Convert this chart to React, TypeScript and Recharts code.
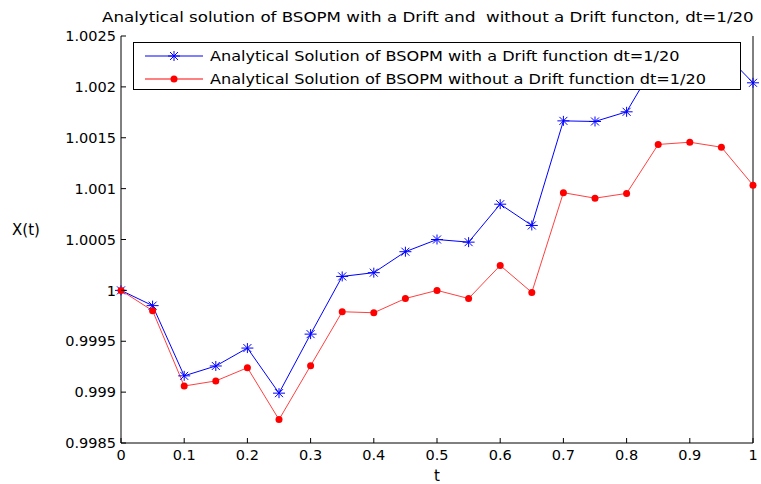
import { LineChart, Line, XAxis, YAxis, Legend } from "recharts";

const tValues = [0, 0.05, 0.1, 0.15, 0.2, 0.25, 0.3, 0.35, 0.4, 0.45, 0.5, 0.55, 0.6, 0.65, 0.7, 0.75, 0.8, 0.85, 0.9, 0.95, 1];

const withDrift = [
  1.0, 0.99985, 0.99916, 0.999257, 0.999433, 0.99899, 0.99957, 1.000137, 1.000174, 1.00038, 1.0005,
  1.000474, 1.000847, 1.000638, 1.001666, 1.00166, 1.001755, 1.00228, 1.00236, 1.00236, 1.00204,
];

const withoutDrift = [
  1.0, 0.9998, 0.99906, 0.99911, 0.99924, 0.99873, 0.99926, 0.99979, 0.99978, 0.99992, 1.0,
  0.99992, 1.000245, 0.99998, 1.00096, 1.000906, 1.000953, 1.001434, 1.001456, 1.001407, 1.001034,
];

const xTicks = [0, 0.1, 0.2, 0.3, 0.4, 0.5, 0.6, 0.7, 0.8, 0.9, 1];
const yTicks = [0.9985, 0.999, 0.9995, 1, 1.0005, 1.001, 1.0015, 1.002, 1.0025];

const data = tValues.map((t, i) => ({ t, drift: withDrift[i], noDrift: withoutDrift[i] }));

const FONT = "'DejaVu Sans', sans-serif";
const BLUE = "#0000ff";
const RED = "#ff0000";
const TICK_LEN = 5;

const fmtY = (v: number) => String(Number(v.toFixed(4)));

const BottomTick = (props: any) => {
  const { x, y, payload } = props;
  return (
    <g>
      <line x1={x} x2={x} y1={y} y2={y - TICK_LEN} stroke="#000" />
      <text x={x} y={y + 17} textAnchor="middle" fontSize={14.5} fontFamily={FONT} fill="#000">
        {String(payload.value)}
      </text>
    </g>
  );
};

const TopTick = (props: any) => {
  const { x, y } = props;
  return <line x1={x} x2={x} y1={y} y2={y + TICK_LEN} stroke="#000" />;
};

const LeftTick = (props: any) => {
  const { x, y, payload } = props;
  return (
    <g>
      <line x1={x} x2={x + TICK_LEN} y1={y} y2={y} stroke="#000" />
      <text x={x - 5} y={y} dy="0.36em" textAnchor="end" fontSize={14.5} fontFamily={FONT} fill="#000">
        {fmtY(payload.value)}
      </text>
    </g>
  );
};

const RightTick = (props: any) => {
  const { x, y } = props;
  return <line x1={x} x2={x - TICK_LEN} y1={y} y2={y} stroke="#000" />;
};

const Asterisk = (props: any) => {
  const { cx, cy, index } = props;
  if (cx == null || cy == null) return <g key={index} />;
  return (
    <g key={index} stroke={BLUE} strokeWidth={1}>
      <line x1={cx - 6} x2={cx + 6} y1={cy} y2={cy} />
      <line x1={cx} x2={cx} y1={cy - 5} y2={cy + 5} />
      <line x1={cx - 4} x2={cx + 4} y1={cy - 4} y2={cy + 4} />
      <line x1={cx - 4} x2={cx + 4} y1={cy + 4} y2={cy - 4} />
    </g>
  );
};

const legendItems = [
  { label: "Analytical Solution of BSOPM with a Drift function dt=1/20", color: BLUE, star: true },
  { label: "Analytical Solution of BSOPM without a Drift function dt=1/20", color: "#ff8080", star: false },
];

const LegendBox = () => (
  <div
    style={{
      border: "1px solid #000",
      background: "#fff",
      width: 606,
      height: 46,
      fontFamily: FONT,
      fontSize: 14,
      color: "#000",
    }}
  >
    {legendItems.map((item) => (
      <div key={item.label} style={{ display: "flex", alignItems: "center", height: 20, marginTop: 3 }}>
        <svg width={76} height={20}>
          <line x1={11} x2={69} y1={10} y2={10} stroke={item.color} strokeWidth={item.star ? 1 : 2} />
          {item.star ? (
            <Asterisk cx={40} cy={10} index={0} />
          ) : (
            <circle cx={40} cy={10} r={3.5} fill={RED} />
          )}
        </svg>
        <span style={{ whiteSpace: "nowrap", display: "inline-block", transform: "scaleX(1.15)", transformOrigin: "left center" }}>
          {item.label}
        </span>
      </div>
    ))}
  </div>
);

export default function App() {
  return (
    <div style={{ position: "absolute", left: 0, top: 0, width: 761, height: 484, background: "#fff", overflow: "hidden" }}>
      <div
        style={{
          position: "absolute",
          left: 102,
          top: 9,
          whiteSpace: "nowrap",
          fontFamily: FONT,
          fontSize: 14,
          color: "#000",
          transform: "scaleX(1.19)",
          transformOrigin: "left center",
        }}
      >
        Analytical solution of BSOPM with a Drift and&nbsp; without a Drift functon, dt=1/20
      </div>
      <LineChart width={761} height={484} data={data} margin={{ top: 36, right: 0, bottom: 0, left: 0 }}>
        <XAxis
          dataKey="t"
          type="number"
          domain={[0, 1]}
          ticks={xTicks}
          height={41}
          tickSize={0}
          tickMargin={0}
          tickLine={false}
          tick={BottomTick}
          axisLine={{ stroke: "#000" }}
          interval={0}
          label={{ value: "t", position: "insideBottom", offset: 3, fontSize: 15, fontFamily: FONT, fill: "#000" }}
        />
        <XAxis
          xAxisId="top"
          orientation="top"
          type="number"
          domain={[0, 1]}
          ticks={xTicks}
          height={0}
          tickSize={0}
          tickMargin={0}
          tickLine={false}
          tick={TopTick}
          axisLine={{ stroke: "#000" }}
          interval={0}
        />
        <YAxis
          type="number"
          domain={[0.9985, 1.0025]}
          ticks={yTicks}
          width={121}
          tickSize={0}
          tickMargin={0}
          tickLine={false}
          tick={LeftTick}
          axisLine={{ stroke: "#000" }}
          interval={0}
          allowDataOverflow
          label={{ value: "X(t)", position: "insideLeft", offset: 12, dy: -10, fontSize: 15, fontFamily: FONT, fill: "#000" }}
        />
        <YAxis
          yAxisId="right"
          orientation="right"
          type="number"
          domain={[0.9985, 1.0025]}
          ticks={yTicks}
          width={8}
          tickSize={0}
          tickMargin={0}
          tickLine={false}
          tick={RightTick}
          axisLine={{ stroke: "#000" }}
          interval={0}
        />
        <Legend
          layout="vertical"
          align="center"
          verticalAlign="middle"
          content={() => <LegendBox />}
          wrapperStyle={{ left: 133, top: 42, width: 608 }}
        />
        <Line
          type="linear"
          dataKey="drift"
          stroke={BLUE}
          strokeWidth={1}
          dot={Asterisk}
          activeDot={false}
          isAnimationActive={false}
        />
        <Line
          type="linear"
          dataKey="noDrift"
          stroke="#ff4040"
          strokeWidth={1}
          dot={{ r: 3.5, fill: RED, stroke: RED, strokeWidth: 0 }}
          activeDot={false}
          isAnimationActive={false}
        />
      </LineChart>
    </div>
  );
}
